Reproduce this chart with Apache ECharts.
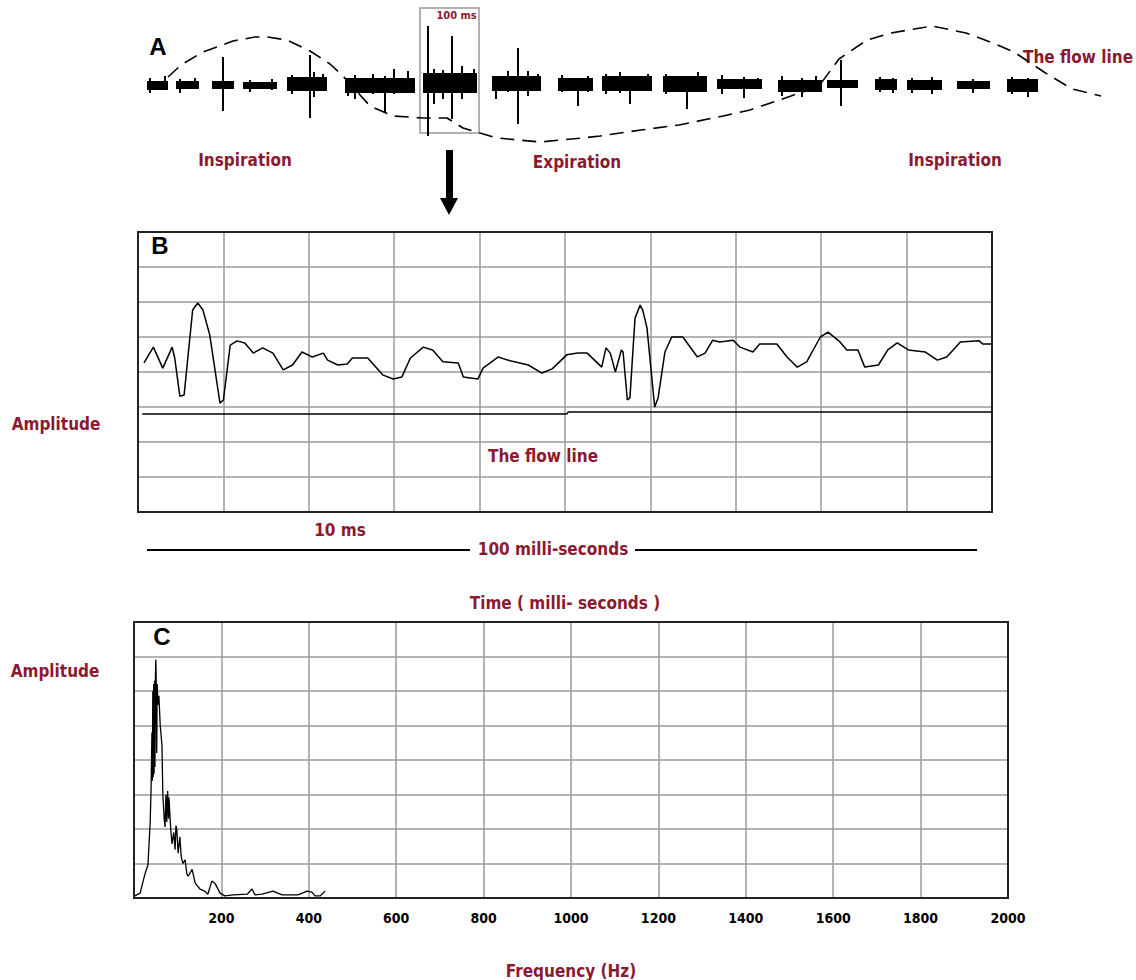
<!DOCTYPE html>
<html>
<head>
<meta charset="utf-8">
<script src="https://cdn.jsdelivr.net/npm/echarts/dist/echarts.min.js"></script>
<style>
html, body { margin: 0; background: #fff; }
#main { width: 1136px; height: 980px; }
</style>
</head>
<body>
<div id="main"></div>
<script>
// ---- panel A : breath sound trace (x in 0.1 s units, y in arbitrary amplitude)
// solid core of every sound burst: [start, end, top, bottom]
var burstCores = [
  [0.7, 2.8, 0.3, -0.6], [3.6, 5.9, 0.3, -0.5], [7.2, 9.4, 0.3, -0.5],
  [10.3, 13.7, 0.2, -0.5], [14.7, 18.7, 0.7, -0.7], [20.5, 27.5, 0.6, -0.9],
  [28.3, 33.7, 1.1, -0.9], [35.2, 40.1, 0.8, -0.7], [41.8, 45.3, 0.6, -0.7],
  [46.2, 51.2, 0.8, -0.7], [52.3, 56.7, 0.8, -0.8], [57.7, 62.2, 0.5, -0.5],
  [63.8, 68.2, 0.4, -0.8], [68.7, 71.8, 0.4, -0.4], [73.5, 75.7, 0.5, -0.6],
  [76.7, 80.2, 0.4, -0.6], [81.7, 85.0, 0.3, -0.5], [86.7, 89.8, 0.5, -0.8]
];
// spikes sticking out of the bursts: [x, top, bottom]
var burstSpikes = [
  [1.0, 0.6, -0.9], [2.5, 0.8, -0.6], [4.0, 0.5, -0.9], [5.5, 0.6, -0.5],
  [8.3, 2.7, -2.7], [11.0, 0.4, -0.8], [13.2, 0.5, -0.6],
  [15.2, 0.9, -1.0], [17.0, 2.9, -3.4], [17.4, 1.2, -1.3], [18.3, 1.0, -0.6],
  [20.8, 0.6, -1.2], [21.5, 0.9, -1.5], [23.3, 1.0, -1.0], [24.5, 0.8, -2.9], [25.4, 1.5, -1.0], [26.8, 1.3, -0.8],
  [28.8, 5.8, -5.2], [29.4, 1.5, -2.0], [30.3, 1.4, -1.5], [31.2, 4.8, -3.5], [32.2, 1.8, -1.5], [33.4, 1.5, -0.8],
  [35.6, 0.8, -1.5], [36.8, 1.3, -0.8], [37.8, 3.6, -4.0], [38.8, 1.3, -1.2], [39.8, 1.0, -0.6],
  [42.2, 0.9, -0.8], [43.8, 0.5, -2.2], [44.8, 0.8, -0.8],
  [46.6, 1.0, -1.0], [48.0, 1.2, -0.9], [49.0, 0.6, -2.0], [50.8, 1.0, -0.6],
  [52.6, 1.0, -1.0], [54.7, 0.6, -2.5], [55.8, 1.2, -0.8],
  [58.2, 0.9, -1.0], [60.4, 0.7, -1.4], [61.8, 0.6, -0.5],
  [64.2, 0.8, -1.2], [66.2, 0.6, -1.3], [67.6, 0.8, -0.6],
  [70.1, 2.4, -2.2], [74.0, 0.7, -0.8], [75.3, 0.6, -0.9],
  [77.2, 0.6, -0.9], [79.2, 0.7, -1.0], [83.3, 0.5, -0.9],
  [87.2, 0.7, -1.0], [88.8, 0.6, -1.3]
];
// dashed flow line
var flowA = [
  [2.8, 0.7], [4.1, 1.9], [6.3, 3.2], [9.3, 4.3], [11.5, 4.7], [12.7, 4.7],
  [14.7, 4.4], [17.0, 3.3], [19.0, 2.0], [20.3, 0.8], [23.0, -2.2], [25.3, -3.2],
  [28.3, -3.4], [30.7, -3.4], [32.3, -4.4], [35.7, -5.4], [40.0, -5.8], [44.3, -5.4],
  [46.0, -5.2], [50.1, -4.6], [53.9, -4.1], [58.3, -3.2], [61.0, -2.6], [65.1, -1.2],
  [67.9, -0.2], [69.9, 2.5], [72.7, 4.4], [75.1, 5.1], [79.2, 5.8], [82.6, 5.1],
  [85.3, 4.1], [87.4, 3.2], [90.4, 1.2], [93.2, -0.5], [96.1, -1.2]
];

// ---- panel B : 100 ms zoom (time ms, amplitude in grid rows)
var waveB = [
  [0.7, 4.26], [1.8, 4.71], [2.9, 4.11], [4.0, 4.71], [4.3, 4.40], [4.9, 3.31],
  [5.4, 3.34], [6.4, 5.77], [7.0, 5.97], [7.6, 5.77], [8.4, 5.06], [9.6, 3.11],
  [10.0, 3.20], [10.8, 4.77], [11.6, 4.89], [12.5, 4.83], [13.5, 4.54], [14.6, 4.69],
  [15.8, 4.54], [17.0, 4.06], [18.1, 4.20], [19.2, 4.57], [20.4, 4.43], [21.7, 4.54],
  [22.2, 4.34], [23.4, 4.20], [24.5, 4.23], [25.1, 4.40], [26.9, 4.40], [28.7, 3.91],
  [29.9, 3.80], [30.9, 3.86], [31.9, 4.40], [33.4, 4.71], [34.5, 4.63], [35.7, 4.29],
  [37.5, 4.26], [38.1, 3.86], [39.8, 3.80], [40.4, 4.11], [42.2, 4.43], [43.3, 4.34],
  [45.7, 4.20], [47.3, 3.97], [48.5, 4.09], [50.2, 4.49], [51.5, 4.54], [52.6, 4.54],
  [54.3, 4.14], [54.8, 4.69], [55.3, 4.54], [55.9, 4.00], [56.6, 4.63], [56.8, 4.57],
  [57.3, 3.20], [57.6, 3.26], [58.2, 5.54], [58.8, 5.91], [59.1, 5.77], [59.6, 5.26],
  [60.5, 3.00], [60.9, 3.26], [61.7, 4.57], [62.5, 5.00], [63.8, 5.00], [65.5, 4.43],
  [66.4, 4.54], [67.3, 4.91], [68.1, 4.86], [69.7, 4.91], [70.5, 4.71], [72.0, 4.57],
  [72.8, 4.80], [74.8, 4.80], [76.0, 4.43], [77.2, 4.14], [78.3, 4.29], [79.9, 5.00],
  [80.8, 5.14], [82.2, 4.86], [83.0, 4.63], [84.3, 4.63], [85.1, 4.14], [86.7, 4.20],
  [87.8, 4.63], [88.9, 4.83], [90.2, 4.63], [92.2, 4.57], [93.6, 4.34], [94.7, 4.43],
  [96.3, 4.86], [98.5, 4.89], [98.9, 4.80], [99.9, 4.80]
];
var flowB = [[0.5, 2.80], [50.2, 2.80], [50.4, 2.86], [100, 2.86]];

// ---- panel C : spectrum (Hz, amplitude in grid rows)
var spectrumC = [
  [2, 0.06], [14, 0.14], [25, 0.69], [32, 0.97], [37, 2.2], [39, 3.11],
  [41, 4.8], [42, 3.4], [43, 6.0], [44, 3.5], [45, 6.2], [46, 3.6],
  [47, 6.3], [48, 3.8], [49, 6.4], [50, 6.91], [51, 6.1], [52, 4.2],
  [53, 6.2], [55, 5.6], [57, 5.86], [60, 5.0], [64, 4.43], [66, 3.0],
  [69, 2.3], [71, 2.06], [73, 3.0], [75, 2.2], [77, 3.1], [79, 2.3],
  [80, 2.91], [84, 2.0], [87, 1.57], [91, 1.9], [94, 1.4], [96, 2.1],
  [98, 1.97], [101, 1.3], [105, 1.77], [108, 1.2], [112, 1.0], [117, 1.11],
  [121, 0.7], [124, 0.63], [133, 0.83], [140, 0.43], [151, 0.26], [162, 0.2],
  [169, 0.11], [178, 0.49], [185, 0.43], [197, 0.14], [208, 0.06], [227, 0.09],
  [259, 0.11], [270, 0.26], [277, 0.09], [293, 0.11], [318, 0.2], [339, 0.09],
  [375, 0.09], [396, 0.2], [407, 0.17], [414, 0.06], [426, 0.06], [437, 0.2]
];
var freqTicks = ['', '200', '400', '600', '800', '1000', '1200', '1400', '1600', '1800', '2000'];

var RED = '#8b1a30';
var NARROW = "'Liberation Sans Narrow', 'DejaVu Sans Condensed', sans-serif";
var chart = echarts.init(document.getElementById('main'), null, {renderer: 'svg'});

function redText(str, x, y, size) {
  return {
    type: 'text', x: x, y: y,
    style: {text: str, fill: RED, font: 'bold ' + (size || 17) + 'px ' + NARROW,
      textAlign: 'center', textVerticalAlign: 'middle'}
  };
}
function letter(str, x, y) {
  return {
    type: 'text', x: x, y: y,
    style: {text: str, fill: '#000', font: 'bold 24px "Liberation Sans", Arial, sans-serif',
      textAlign: 'center', textVerticalAlign: 'middle'}
  };
}

var gridLine = {show: true, lineStyle: {color: '#9a9a9a', width: 1.5}};

var option = {
  animation: false,
  grid: [
    {left: 140, width: 970, top: 4, height: 140, show: false},
    {left: 138, right: 144, top: 232, height: 280, show: true, borderColor: '#222', borderWidth: 2, z: 3},
    {left: 134, right: 128, top: 622, height: 280, show: true, borderColor: '#222', borderWidth: 2, z: 3}
  ],
  xAxis: [
    {gridIndex: 0, type: 'value', min: 0, max: 97, show: false},
    {gridIndex: 1, type: 'value', min: 0, max: 100, interval: 10,
      axisLine: {show: false}, axisTick: {show: false}, axisLabel: {show: false},
      splitLine: gridLine,
      name: 'Time ( milli- seconds )', nameLocation: 'middle', nameGap: 82,
      nameTextStyle: {color: RED, fontWeight: 'bold', fontFamily: NARROW, fontSize: 17}},
    {gridIndex: 2, type: 'value', min: 0, max: 2000, interval: 200,
      axisLine: {show: false}, axisTick: {show: false},
      axisLabel: {color: '#000', fontWeight: 'bold', fontFamily: NARROW, fontSize: 14, margin: 13,
        formatter: function (v) { return freqTicks[Math.round(v / 200)]; }},
      splitLine: gridLine,
      name: 'Frequency (Hz)', nameLocation: 'middle', nameGap: 64,
      nameTextStyle: {color: RED, fontWeight: 'bold', fontFamily: NARROW, fontSize: 17}}
  ],
  yAxis: [
    {gridIndex: 0, type: 'value', min: -6, max: 8, show: false},
    {gridIndex: 1, type: 'value', min: 0, max: 8, interval: 1,
      axisLine: {show: false}, axisTick: {show: false}, axisLabel: {show: false}, splitLine: gridLine},
    {gridIndex: 2, type: 'value', min: 0, max: 8, interval: 1,
      axisLine: {show: false}, axisTick: {show: false}, axisLabel: {show: false}, splitLine: gridLine}
  ],
  series: [
    {
      type: 'custom', xAxisIndex: 0, yAxisIndex: 0, data: burstCores,
      encode: {x: [0, 1], y: [2, 3]},
      renderItem: function (params, api) {
        var a = api.coord([api.value(0), api.value(2)]);
        var b = api.coord([api.value(1), api.value(3)]);
        return {type: 'rect', shape: {x: a[0], y: a[1], width: b[0] - a[0], height: b[1] - a[1]},
          style: {fill: '#000'}};
      }
    },
    {
      type: 'custom', xAxisIndex: 0, yAxisIndex: 0, data: burstSpikes,
      encode: {x: 0, y: [1, 2]},
      renderItem: function (params, api) {
        var a = api.coord([api.value(0), api.value(1)]);
        var b = api.coord([api.value(0), api.value(2)]);
        return {type: 'line', shape: {x1: a[0], y1: a[1], x2: b[0], y2: b[1]},
          style: {stroke: '#000', lineWidth: 2}};
      }
    },
    {
      type: 'line', xAxisIndex: 0, yAxisIndex: 0, data: flowA, symbol: 'none',
      lineStyle: {color: '#000', width: 1.6, type: [14, 8]},
      markArea: {
        silent: true,
        itemStyle: {color: 'rgba(0,0,0,0)', borderColor: '#999', borderWidth: 1.5},
        label: {show: true, position: 'insideTopRight', distance: 3, color: RED,
          fontWeight: 'bold', fontFamily: NARROW, fontSize: 11, formatter: '100 ms'},
        data: [[{xAxis: 28.0, yAxis: 7.6}, {xAxis: 33.9, yAxis: -4.9}]]
      }
    },
    {
      type: 'line', xAxisIndex: 1, yAxisIndex: 1, data: waveB, symbol: 'none',
      lineStyle: {color: '#000', width: 1.5}
    },
    {
      type: 'line', xAxisIndex: 1, yAxisIndex: 1, data: flowB, symbol: 'none',
      lineStyle: {color: '#000', width: 1.5}
    },
    {
      type: 'line', xAxisIndex: 2, yAxisIndex: 2, data: spectrumC, symbol: 'none',
      lineStyle: {color: '#000', width: 1.3}
    }
  ],
  graphic: [
    letter('A', 158, 46),
    letter('B', 160, 245),
    letter('C', 162, 636),
    redText('Inspiration', 245, 160),
    redText('Expiration', 577, 162),
    redText('Inspiration', 955, 160),
    redText('The flow line', 1078, 57),
    redText('Amplitude', 56, 424),
    redText('The flow line', 543, 456),
    redText('10 ms', 340, 530),
    redText('100 milli-seconds', 553, 549),
    redText('Amplitude', 55, 671),
    // arrow from the 100 ms window down to panel B
    {type: 'rect', shape: {x: 446, y: 150, width: 7, height: 52}, style: {fill: '#000'}},
    {type: 'polygon', shape: {points: [[440, 198], [458, 198], [449, 215]]}, style: {fill: '#000'}},
    // 100 ms scale bar
    {type: 'line', shape: {x1: 147, y1: 550, x2: 470, y2: 550}, style: {stroke: '#000', lineWidth: 2}},
    {type: 'line', shape: {x1: 635, y1: 550, x2: 977, y2: 550}, style: {stroke: '#000', lineWidth: 2}}
  ]
};
chart.setOption(option);
</script>
</body>
</html>
